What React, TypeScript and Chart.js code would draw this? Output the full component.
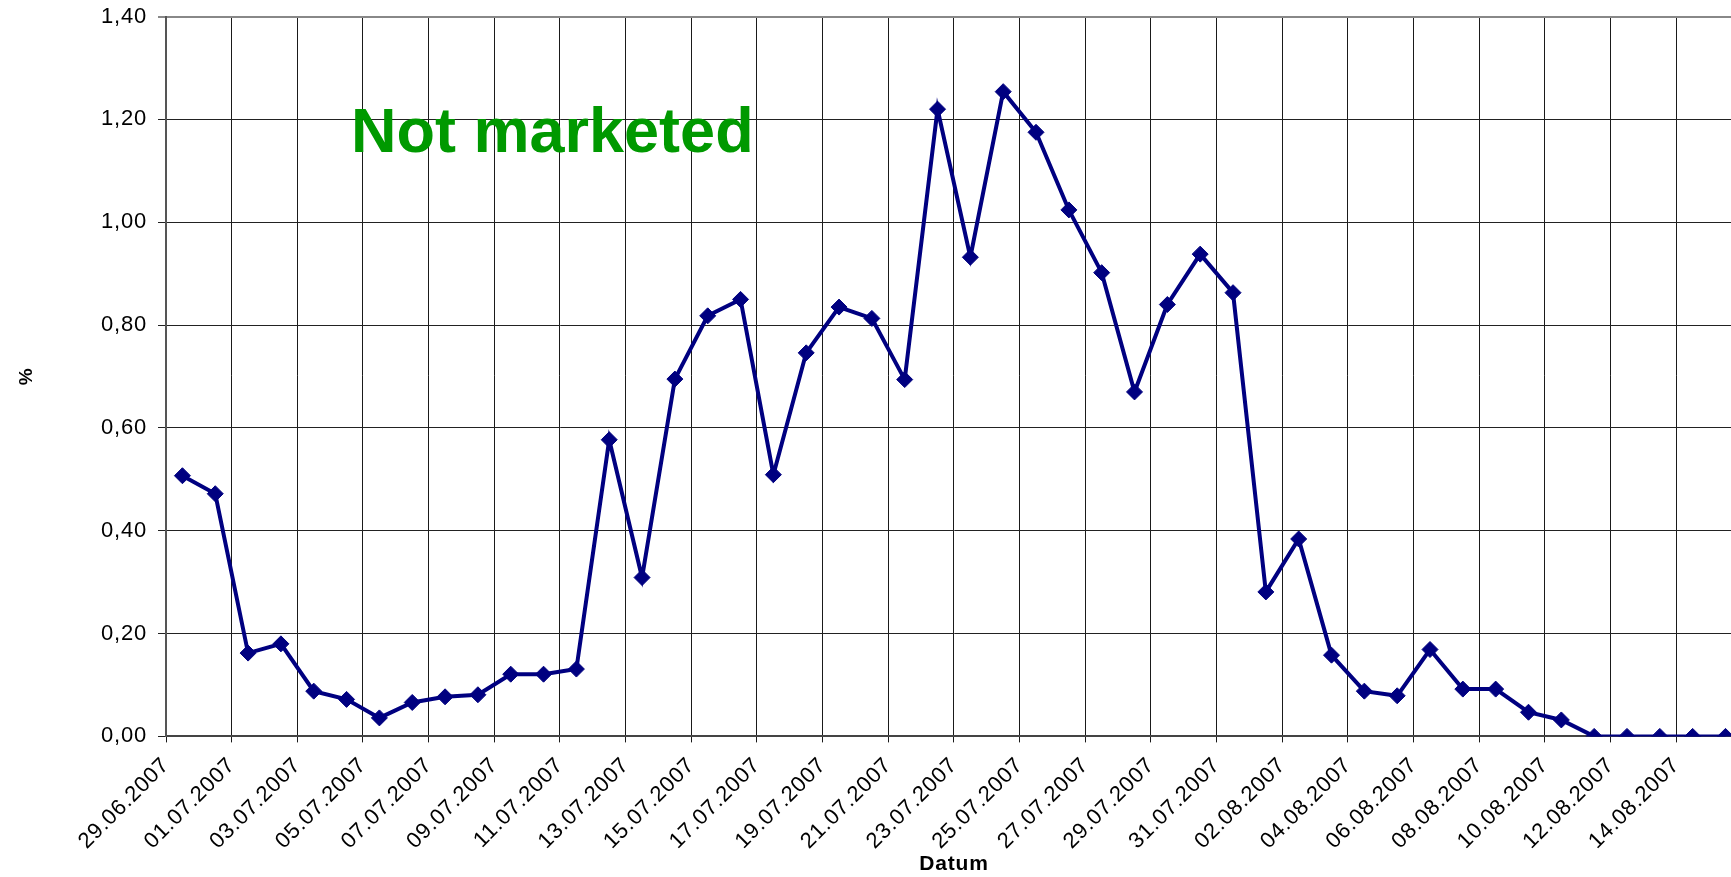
import { useEffect, useRef } from 'react';
import { Chart, registerables } from 'chart.js';

Chart.register(...registerables);

// ---- data ----
const dates: string[] = [
  '29.06.2007', '30.06.2007',
  '01.07.2007', '02.07.2007', '03.07.2007', '04.07.2007', '05.07.2007', '06.07.2007', '07.07.2007',
  '08.07.2007', '09.07.2007', '10.07.2007', '11.07.2007', '12.07.2007', '13.07.2007', '14.07.2007',
  '15.07.2007', '16.07.2007', '17.07.2007', '18.07.2007', '19.07.2007', '20.07.2007', '21.07.2007',
  '22.07.2007', '23.07.2007', '24.07.2007', '25.07.2007', '26.07.2007', '27.07.2007', '28.07.2007',
  '29.07.2007', '30.07.2007', '31.07.2007',
  '01.08.2007', '02.08.2007', '03.08.2007', '04.08.2007', '05.08.2007', '06.08.2007', '07.08.2007',
  '08.08.2007', '09.08.2007', '10.08.2007', '11.08.2007', '12.08.2007', '13.08.2007', '14.08.2007',
  '15.08.2007',
];

const percentValues: number[] = [
  0.507, 0.472,
  0.162, 0.180, 0.088, 0.072, 0.036, 0.066, 0.077,
  0.081, 0.121, 0.121, 0.131, 0.577, 0.309, 0.695,
  0.818, 0.850, 0.509, 0.746, 0.835, 0.813, 0.694,
  1.220, 0.932, 1.254, 1.175, 1.024, 0.902, 0.670,
  0.840, 0.938, 0.863,
  0.281, 0.384, 0.158, 0.088, 0.079, 0.169, 0.092,
  0.092, 0.047, 0.032, 0, 0, 0, 0,
  0,
];

const yAxisMin = 0;
const yAxisMax = 1.4;
const yAxisStep = 0.2;
const xLabelStep = 2;

const xAxisTitle = 'Datum';
const yAxisTitle = '%';
const annotationText = 'Not marketed';

const FONT = '"Liberation Sans", Arial, Helvetica, sans-serif';

const annotationPlugin = {
  id: 'notMarketed',
  beforeDraw(chart: any) {
    (chart.ctx as any).letterSpacing = '0.8px';
  },
  afterDraw(chart: any, _args: any, opts: any) {
    const ctx = chart.ctx;
    ctx.save();
    (ctx as any).letterSpacing = '0px';
    ctx.font = `bold 63px ${FONT}`;
    ctx.fillStyle = '#009900';
    ctx.textAlign = 'left';
    ctx.textBaseline = 'alphabetic';
    ctx.fillText(opts.text, opts.x, opts.y);
    ctx.restore();
  },
};

export default function App() {
  const canvasRef = useRef<HTMLCanvasElement>(null);

  useEffect(() => {
    if (!canvasRef.current) return;
    const points = percentValues.map((v, i) => ({ x: i + 0.5, y: v }));
    const chart = new Chart(canvasRef.current, {
      type: 'line',
      data: {
        datasets: [
          {
            data: points,
            borderColor: '#000080',
            backgroundColor: '#000080',
            borderWidth: 4,
            pointStyle: 'rectRot',
            pointRadius: 8,
            pointBorderWidth: 1,
            pointBackgroundColor: '#000080',
            pointBorderColor: '#000080',
            tension: 0,
            fill: false,
          },
        ],
      },
      options: {
        animation: false,
        responsive: false,
        devicePixelRatio: 1,
        parsing: false as any,
        normalized: true,
        layout: { padding: { left: 0, top: 16.6, right: 18.1, bottom: 0 } },
        plugins: {
          legend: { display: false },
          tooltip: { enabled: false },
          notMarketed: { text: annotationText, x: 351, y: 152 },
        } as any,
        scales: {
          x: {
            type: 'linear',
            min: 0,
            max: dates.length,
            afterFit: (scale: any) => {
              scale.height = 140.6;
              scale.paddingLeft = 0;
              scale.paddingRight = 0;
            },
            ticks: {
              stepSize: xLabelStep,
              autoSkip: false,
              maxTicksLimit: 200,
              minRotation: 45,
              maxRotation: 45,
              padding: 10,
              color: '#000',
              font: { family: FONT, size: 22 },
              callback: (v: any) => dates[Math.round(Number(v))] ?? '',
            },
            grid: {
              color: '#1a1a1a',
              lineWidth: 1,
              tickLength: 6,
              drawTicks: true,
            },
            border: { display: true, color: '#444', width: 2 },
            title: {
              display: true,
              text: xAxisTitle,
              color: '#000',
              font: { family: FONT, size: 21, weight: 'bold' },
              padding: { top: 0, bottom: 0 },
            },
          },
          y: {
            type: 'linear',
            min: yAxisMin,
            max: yAxisMax,
            afterFit: (scale: any) => {
              scale.width = 166;
              scale.paddingTop = 0;
              scale.paddingBottom = 0;
            },
            ticks: {
              stepSize: yAxisStep,
              padding: 11,
              color: '#000',
              font: { family: FONT, size: 22 },
              callback: (v: any) => Number(v).toFixed(2).replace('.', ','),
            },
            grid: {
              color: (c: any) => (c.tick && Math.abs(c.tick.value - yAxisMax) < 1e-6 ? '#888' : '#222'),
              lineWidth: (c: any) => (c.tick && Math.abs(c.tick.value - yAxisMax) < 1e-6 ? 2 : 1),
              tickLength: 8,
              drawTicks: true,
            },
            border: { display: true, color: '#555', width: 2 },
            title: {
              display: true,
              text: yAxisTitle,
              color: '#000',
              font: { family: FONT, size: 19, weight: 'bold' },
              padding: { top: 15, bottom: 0 },
            },
          },
        },
      } as any,
      plugins: [annotationPlugin],
    });
    return () => chart.destroy();
  }, []);

  return (
    <div
      style={{
        position: 'fixed',
        left: 0,
        top: 0,
        width: '1731px',
        height: '877px',
        overflow: 'hidden',
        background: '#fff',
      }}
    >
      <canvas
        ref={canvasRef}
        width={1760}
        height={877}
        style={{ display: 'block', width: '1760px', height: '877px' }}
      />
    </div>
  );
}
